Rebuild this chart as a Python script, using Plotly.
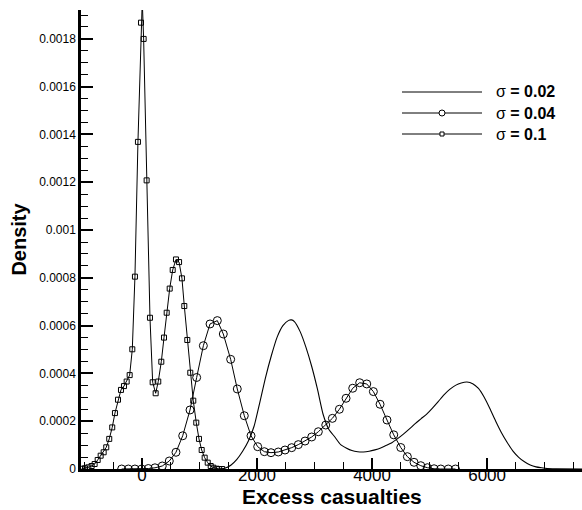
import plotly.graph_objects as go

# ---------------- data ----------------
# sigma = 0.02 (smooth curve, no markers)
x_s002 = [1350, 1450, 1550, 1650, 1750, 1850, 1950, 2050, 2150, 2250, 2350, 2450, 2550, 2600,
          2650, 2750, 2850, 2950, 3050, 3150, 3250, 3350, 3450, 3550, 3650, 3750, 3850, 3950,
          4050, 4150, 4250, 4350, 4450, 4550, 4650, 4750, 4850, 4950, 5050, 5150, 5250, 5350,
          5450, 5550, 5650, 5750, 5850, 5950, 6050, 6150, 6250, 6350, 6450, 6550, 6650, 6750,
          6850, 6950, 7050, 7200, 7650]
y_s002 = [0.0, 0.000004, 0.000017, 0.000040, 0.000074, 0.000117, 0.000180, 0.000280, 0.000385,
          0.000475, 0.000552, 0.000600, 0.000622, 0.000624, 0.000617, 0.000575, 0.000510,
          0.000430, 0.000335, 0.000228, 0.000165, 0.000135, 0.000103, 0.000088, 0.000077,
          0.000072, 0.000071, 0.000074, 0.000080, 0.000088, 0.000099, 0.000111, 0.000128,
          0.000147, 0.000168, 0.000190, 0.000210, 0.000230, 0.000255, 0.000282, 0.000310,
          0.000333, 0.000350, 0.000360, 0.000364, 0.000357, 0.000337, 0.000300, 0.000252,
          0.000200, 0.000152, 0.000111, 0.000075, 0.000049, 0.000030, 0.000017, 0.000009,
          0.000005, 0.000002, 0.000001, 0.0]

# sigma = 0.04 (circles)
x_s004 = [-353, -237, -122, -6, 110, 226, 353, 475, 591, 708, 835, 951, 1067, 1183, 1310, 1414,
          1542, 1657, 1779, 1896, 2012, 2127, 2243, 2370, 2487, 2603, 2718, 2835, 2951, 3066,
          3195, 3310, 3432, 3548, 3664, 3785, 3908, 4023, 4139, 4260, 4377, 4499, 4614, 4730,
          4847, 4962, 5078, 5195, 5325, 5450]
y_s004 = [0.0, 0.0, 0.0, 0.0, 0.000002, 0.000005, 0.0000126, 0.0000335, 0.00007, 0.000139,
          0.000247, 0.000383, 0.000516, 0.000607, 0.000621, 0.000565, 0.000459, 0.000335,
          0.000223, 0.000139, 0.0000934, 0.0000725, 0.0000683, 0.0000712, 0.0000795, 0.0000893,
          0.000102, 0.000117, 0.000134, 0.000156, 0.000184, 0.000212, 0.00025, 0.000296,
          0.000338, 0.000361, 0.000356, 0.000324, 0.000271, 0.000205, 0.000143, 0.00009,
          0.0000516, 0.000028, 0.0000138, 0.0000054, 0.000001, 0.0, 0.0, 0.0]

# sigma = 0.1 (squares)
x_s01 = [-1049, -991, -933, -875, -823, -770, -718, -666, -621, -569, -517, -470, -417, -365,
         -313, -266, -214, -168, -122, -70, -17, 5, 29, 81, 139, 186, 238, 283, 336, 383, 430,
         482, 534, 591, 645, 695, 736, 788, 840, 892, 944, 991, 1038, 1090, 1143, 1195, 1240,
         1299, 1342, 1395]
y_s01 = [0.000001, 0.000003, 0.000007, 0.0000126, 0.0000209, 0.0000377, 0.0000557, 0.00007,
         0.0000908, 0.000126, 0.000174, 0.000234, 0.00029, 0.000331, 0.000347, 0.000366,
         0.000393, 0.000501, 0.000805, 0.001369, 0.001868, 0.00196, 0.0018, 0.001208, 0.000633,
         0.000363, 0.000317, 0.000366, 0.000449, 0.00055, 0.000654, 0.000755, 0.000833,
         0.000877, 0.000866, 0.000798, 0.000682, 0.00054, 0.000403, 0.000286, 0.000194,
         0.000126, 0.0000795, 0.0000474, 0.0000265, 0.0000126, 0.0000056, 0.0000013, 0.0, 0.0]

series_names = ["σ <b>= 0.02</b>", "σ <b>= 0.04</b>", "σ <b>= 0.1</b>"]

x_tickvals = [0, 2000, 4000, 6000]
x_ticktext = ["0", "2000", "4000", "6000"]
y_tickvals = [0, 0.0002, 0.0004, 0.0006, 0.0008, 0.001, 0.0012, 0.0014, 0.0016, 0.0018]
y_ticktext = ["0", "0.0002", "0.0004", "0.0006", "0.0008", "0.001", "0.0012", "0.0014",
              "0.0016", "0.0018"]

x_title = "Excess casualties"
y_title = "Density"

# ---------------- figure ----------------
FONT = "Liberation Sans, Arial, Helvetica, sans-serif"
W, H = 582, 510
ML, MR, MT, MB = 81, 0, 10, 41

fig = go.Figure()
fig.add_trace(go.Scatter(x=x_s002, y=y_s002, mode="lines", line=dict(color="black", width=1.1, shape="spline", smoothing=0.6),
                         showlegend=False, hoverinfo="skip"))
fig.add_trace(go.Scatter(x=x_s004, y=y_s004, mode="lines+markers", line=dict(color="black", width=1),
                         marker=dict(symbol="circle-open", size=8, color="black", line=dict(width=1, color="black")),
                         showlegend=False, hoverinfo="skip"))
fig.add_trace(go.Scatter(x=x_s01, y=y_s01, mode="lines+markers", line=dict(color="black", width=1),
                         marker=dict(symbol="square-open", size=5, color="black", line=dict(width=1, color="black")),
                         showlegend=False, hoverinfo="skip"))

# manual legend (line samples + markers + labels), positions in paper coords
pw, ph = W - ML - MR, H - MT - MB
def px_x(p):
    return (p - ML) / pw
def px_y(p):
    return (H - MB - p) / ph

rows = [92, 113, 134]
lx0, lx1, ltx = 402, 482, 494
shapes = []
annotations = []
for i, (ry, name) in enumerate(zip(rows, series_names)):
    shapes.append(dict(type="line", xref="paper", yref="paper", x0=px_x(lx0), x1=px_x(lx1),
                       y0=px_y(ry), y1=px_y(ry), line=dict(color="black", width=1)))
    cx = px_x((lx0 + lx1) / 2)
    cy = px_y(ry)
    if i == 1:
        shapes.append(dict(type="circle", xref="paper", yref="paper", xsizemode="pixel", ysizemode="pixel",
                           xanchor=cx, yanchor=cy, x0=-3, x1=3, y0=-3, y1=3,
                           line=dict(color="black", width=1), fillcolor="white"))
    elif i == 2:
        shapes.append(dict(type="rect", xref="paper", yref="paper", xsizemode="pixel", ysizemode="pixel",
                           xanchor=cx, yanchor=cy, x0=-2, x1=2, y0=-2, y1=2,
                           line=dict(color="black", width=1), fillcolor="white"))
    annotations.append(dict(x=px_x(ltx), y=cy, xref="paper", yref="paper", text=name, showarrow=False,
                            xanchor="left", yanchor="middle", font=dict(family=FONT, size=16, color="black")))

# x-axis title as annotation placed just below the tick labels
annotations.append(dict(x=px_x(332), y=px_y(497), xref="paper", yref="paper", text="<b>" + x_title + "</b>",
                        showarrow=False, xanchor="center", yanchor="middle",
                        font=dict(family=FONT, size=21, color="black")))

fig.update_layout(
    width=W, height=H,
    margin=dict(l=ML, r=MR, t=MT, b=MB, pad=0),
    paper_bgcolor="white", plot_bgcolor="white",
    font=dict(family=FONT, color="black"),
    shapes=shapes, annotations=annotations,
    xaxis=dict(range=[-1060, 7650], showgrid=False, zeroline=False, showline=True, linecolor="black",
               linewidth=2.5, ticks="inside", ticklen=11, tickwidth=2, tickcolor="black",
               tickmode="array", tickvals=x_tickvals, ticktext=x_ticktext,
               tickfont=dict(family=FONT, size=17, color="black"), ticklabelstandoff=-11,
               minor=dict(ticks="inside", ticklen=7, tickwidth=1, tickcolor="black", tick0=0, dtick=500)),
    yaxis=dict(range=[0, 0.001921], showgrid=False, zeroline=False, showline=True, linecolor="black",
               linewidth=2.5, ticks="inside", ticklen=12, tickwidth=2, tickcolor="black",
               tickmode="array", tickvals=y_tickvals, ticktext=y_ticktext,
               tickfont=dict(family=FONT, size=12, color="black"),
               minor=dict(ticks="inside", ticklen=7, tickwidth=1, tickcolor="black", tick0=0, dtick=0.00005),
               title=dict(text="<b>" + y_title + "</b>", font=dict(family=FONT, size=20, color="black"), standoff=8)),
)

fig.write_html("out.html")
